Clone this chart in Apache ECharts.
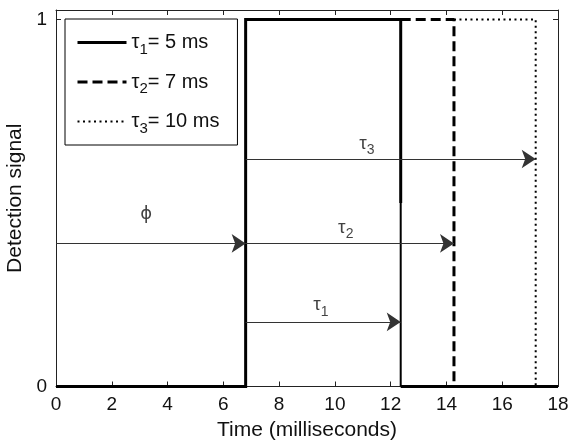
<!DOCTYPE html>
<html>
<head>
<meta charset="utf-8">
<script src="https://cdn.jsdelivr.net/npm/echarts@6/dist/echarts.min.js"></script>
<style>
  html, body { margin: 0; padding: 0; background: #fff; }
  #chart { width: 571px; height: 444px; }
</style>
</head>
<body>
<div id="chart"></div>
<script>
// Time axis (ms) and signal range
const xTicks = [0, 2, 4, 6, 8, 10, 12, 14, 16, 18];
const yTicks = [0, 1];

// Event times (ms)
const tOn = 6.8;        // detection onset (phi)
const tOff1 = 12.36;    // end of window, tau1
const tOff2 = 14.27;    // end of window, tau2
const tOff3 = 17.2;     // end of window, tau3

// Detection signal traces
const solidMain = [[0, 0], [tOn, 0], [tOn, 1], [tOff1, 1], [tOff1, 0.5]];
const solidDrop = [[tOff1, 0.5], [tOff1, 0]];
const solidTail = [[tOff1, 0], [18, 0]];
const dashed = [[tOff1, 1], [tOff2, 1], [tOff2, 0]];
const dotted = [[tOff2, 1], [tOff3, 1], [tOff3, 0]];

// Interval arrows: [x0, x1, y]
const arrowPhi = [0, tOn, 0.39];
const arrowTau1 = [tOn, tOff1, 0.176];
const arrowTau2 = [tOn, tOff2, 0.39];
const arrowTau3 = [tOn, tOff3, 0.62];

// Arrow annotations: [x, y, symbol, subscript]
const annotations = [
  [3.23, 0.47, 'ϕ', ''],
  [9.5, 0.222, 'τ', '1'],
  [10.39, 0.433, 'τ', '2'],
  [11.15, 0.662, 'τ', '3']
];

// Legend entries
const legendNames = ['tau1', 'tau2', 'tau3'];
const legendSubs = ['1', '2', '3'];
const legendRest = ['= 5 ms', '= 7 ms', '= 10 ms'];

const FONT = '"Liberation Sans", Arial, Helvetica, sans-serif';
const INK = '#000';
const AXIS = '#222';

const chart = echarts.init(document.getElementById('chart'), null, { renderer: 'canvas' });

function arrowItem(a) {
  return { coords: [[a[0], a[2]], [a[1], a[2]]] };
}

const legendRich = {
  t: { fontSize: 20, fontFamily: FONT, color: '#111', lineHeight: 22 },
  s: { fontSize: 15, fontFamily: FONT, color: '#111', lineHeight: 15, padding: [14, 0, 0, 0] }
};

const option = {
  animation: false,
  backgroundColor: '#fff',
  color: [INK, INK, INK, INK, INK],
  grid: { left: 56, right: 13, top: 10, bottom: 57.5, containLabel: false, outerBoundsMode: 'none' },
  xAxis: [
    {
      type: 'value', min: 0, max: 18, interval: 2, position: 'bottom',
      name: 'Time (milliseconds)', nameLocation: 'middle', nameGap: 33,
      nameTextStyle: { fontSize: 21, fontFamily: FONT, color: '#111' },
      axisLine: { show: true, onZero: false, lineStyle: { color: AXIS, width: 1 } },
      axisTick: { show: true, inside: true, length: 5, lineStyle: { color: AXIS } },
      axisLabel: { show: true, margin: 9, fontSize: 19, fontFamily: FONT, color: '#111' },
      splitLine: { show: false }
    },
    {
      type: 'value', min: 0, max: 18, interval: 2, position: 'top',
      axisLine: { show: true, onZero: false, lineStyle: { color: AXIS, width: 1 } },
      axisTick: { show: true, inside: true, length: 5, lineStyle: { color: AXIS } },
      axisLabel: { show: false },
      splitLine: { show: false }
    }
  ],
  yAxis: [
    {
      type: 'value', min: 0, max: 1.026, position: 'left',
      name: 'Detection signal', nameLocation: 'middle', nameGap: 30,
      nameTextStyle: { fontSize: 21, fontFamily: FONT, color: '#111' },
      axisLine: { show: true, onZero: false, lineStyle: { color: AXIS, width: 1 } },
      axisTick: { show: true, inside: true, length: 5, customValues: yTicks, lineStyle: { color: AXIS } },
      axisLabel: { show: true, margin: 9, customValues: yTicks, fontSize: 19, fontFamily: FONT, color: '#111' },
      splitLine: { show: false }
    },
    {
      type: 'value', min: 0, max: 1.026, position: 'right',
      axisLine: { show: true, onZero: false, lineStyle: { color: AXIS, width: 1 } },
      axisTick: { show: true, inside: true, length: 5, customValues: yTicks, lineStyle: { color: AXIS } },
      axisLabel: { show: false },
      splitLine: { show: false }
    }
  ],
  legend: {
    orient: 'vertical', left: 65, top: 19,
    padding: [9, 18, 9, 11],
    itemGap: 10.5, itemWidth: 49, itemHeight: 14,
    borderColor: '#000', borderWidth: 1, borderRadius: 0, backgroundColor: '#fff',
    selectedMode: false,
    itemStyle: { opacity: 0 },
    data: [
      { name: legendNames[0], itemStyle: { opacity: 0 }, lineStyle: { color: INK, width: 3, type: 'solid' } },
      { name: legendNames[1], itemStyle: { opacity: 0 }, lineStyle: { color: INK, width: 3, type: [10, 5] } },
      { name: legendNames[2], itemStyle: { opacity: 0 }, lineStyle: { color: INK, width: 2, type: [2, 3.5] } }
    ],
    formatter: function (name) {
      const i = legendNames.indexOf(name);
      return '{t|τ}{s|' + legendSubs[i] + '}{t|' + legendRest[i] + '}';
    },
    textStyle: { rich: legendRich }
  },
  series: [
    {
      name: legendNames[0], type: 'line', data: solidMain, symbol: 'none',
      lineStyle: { color: INK, width: 3, cap: 'butt', join: 'miter' }, z: 5
    },
    {
      name: 'drop', type: 'line', data: solidDrop, symbol: 'none',
      lineStyle: { color: INK, width: 2 }, z: 5
    },
    {
      name: 'tail', type: 'line', data: solidTail, symbol: 'none',
      lineStyle: { color: INK, width: 3, cap: 'butt' }, z: 5
    },
    {
      name: legendNames[1], type: 'line', data: dashed, symbol: 'none',
      lineStyle: { color: INK, width: 3, type: [10, 5], cap: 'butt' }, z: 4
    },
    {
      name: legendNames[2], type: 'line', data: dotted, symbol: 'none',
      lineStyle: { color: INK, width: 2, type: [2, 3.5], cap: 'butt' }, z: 3
    },
    {
      name: 'intervals', type: 'lines', coordinateSystem: 'cartesian2d',
      symbol: ['none', 'arrow'], symbolSize: 14,
      lineStyle: { color: '#333', width: 1, opacity: 1, curveness: 0 },
      itemStyle: { color: '#000' },
      data: [arrowPhi, arrowTau1, arrowTau2, arrowTau3].map(arrowItem), z: 6
    },
    {
      name: 'labels', type: 'scatter', symbolSize: 0, silent: true,
      data: annotations.map(a => ({ value: [a[0], a[1]], sym: a[2], sub: a[3] })),
      label: {
        show: true, position: 'inside',
        formatter: function (p) {
          return p.data.sub ? '{t|' + p.data.sym + '}{s|' + p.data.sub + '}' : '{p|' + p.data.sym + '}';
        },
        rich: {
          t: { fontSize: 19, fontFamily: FONT, color: '#111' },
          s: { fontSize: 14, fontFamily: FONT, color: '#111', padding: [14, 0, 0, 0] },
          p: { fontSize: 18, fontFamily: '"DejaVu Sans", sans-serif', color: '#111' }
        }
      },
      z: 7
    }
  ]
};

chart.setOption(option);
</script>
</body>
</html>
